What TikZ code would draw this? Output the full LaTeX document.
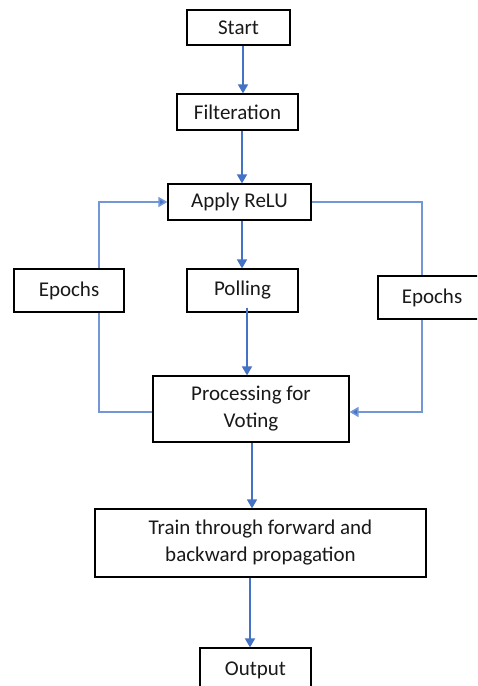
\documentclass[tikz,border=0pt]{standalone}
\usepackage{fontspec}
\setmainfont{Carlito}
\usetikzlibrary{arrows.meta,calc}
\definecolor{arrowblue}{HTML}{4472C4}
\definecolor{loopblue}{HTML}{7396D6}
\tikzset{
  box/.style={draw=black, line width=1.2pt, fill=white, inner sep=0pt, align=center,
    font={\fontsize{21}{27}\selectfont}, text=black!90},
  flow/.style={draw=arrowblue, line width=1.6pt, -{Triangle[width=10pt,length=9pt]}},
  loopline/.style={draw=loopblue, line width=1.6pt},
  looparrow/.style={draw=loopblue, line width=1.6pt, -{Triangle[width=10pt,length=9pt,fill=arrowblue]}}
}
\begin{document}
\begin{tikzpicture}[x=1pt,y=-1pt]
\useasboundingbox (0,0) rectangle (477,686);
\clip (0,0) rectangle (477,686);
% nodes
\node[box, minimum width=103pt, minimum height=35pt] (start) at (238.5,27.5) {Start};
\node[box, minimum width=121pt, minimum height=36pt] (filter) at (237.5,112) {Filteration};
\node[box, minimum width=143pt, minimum height=36pt] (relu) at (239.5,202) {Apply ReLU};
\node[box, minimum width=110pt, minimum height=43pt] (epl) at (69,290.5) {Epochs};
\node[box, minimum width=111pt, minimum height=43pt] (poll) at (242.5,290.5) {Polling};
\node[box, minimum width=108pt, minimum height=43pt] (epr) at (432,297.5) {Epochs};
\node[box, minimum width=196pt, minimum height=66pt] (proc) at (251,409) {Processing for\\Voting};
\node[box, minimum width=331pt, minimum height=68pt] (train) at (260.5,543) {Train through forward and\\backward propagation};
\node[box, minimum width=111pt, minimum height=44pt] (out) at (255.5,670) {Output};
% coordinates for loop corners
\coordinate (lx) at (99,0);
\coordinate (rx) at (422,0);
\coordinate (pj) at (0,412);
% main flow
\draw[flow] ([xshift=4.5pt]start.south) -- ([xshift=4.5pt]start.south |- filter.north);
\draw[flow] ([xshift=4.5pt]filter.south) -- ([xshift=4.5pt]filter.south |- relu.north);
\draw[flow] ([xshift=-0.5pt]relu.south -| poll.north) -- ([xshift=-0.5pt]poll.north);
\draw[flow] ([xshift=4.5pt,yshift=5pt]poll.south) -- ([xshift=4.5pt]poll.south |- proc.north);
\draw[flow] ([xshift=1pt]proc.south) -- ([xshift=1pt]proc.south |- train.north);
\draw[flow] ([xshift=-10.5pt]train.south) -- ([xshift=-10.5pt]train.south |- out.north);
% left loop
\draw[loopline] (proc.west |- pj) -- (lx |- pj) -- (lx |- epl.south);
\draw[looparrow] (lx |- epl.north) -- (lx |- relu.west) -- (relu.west);
% right loop
\draw[loopline] (relu.east) -- (rx |- relu.east) -- (rx |- epr.north);
\draw[looparrow] (rx |- epr.south) -- (rx |- pj) -- (proc.east |- pj);
\end{tikzpicture}
\end{document}
